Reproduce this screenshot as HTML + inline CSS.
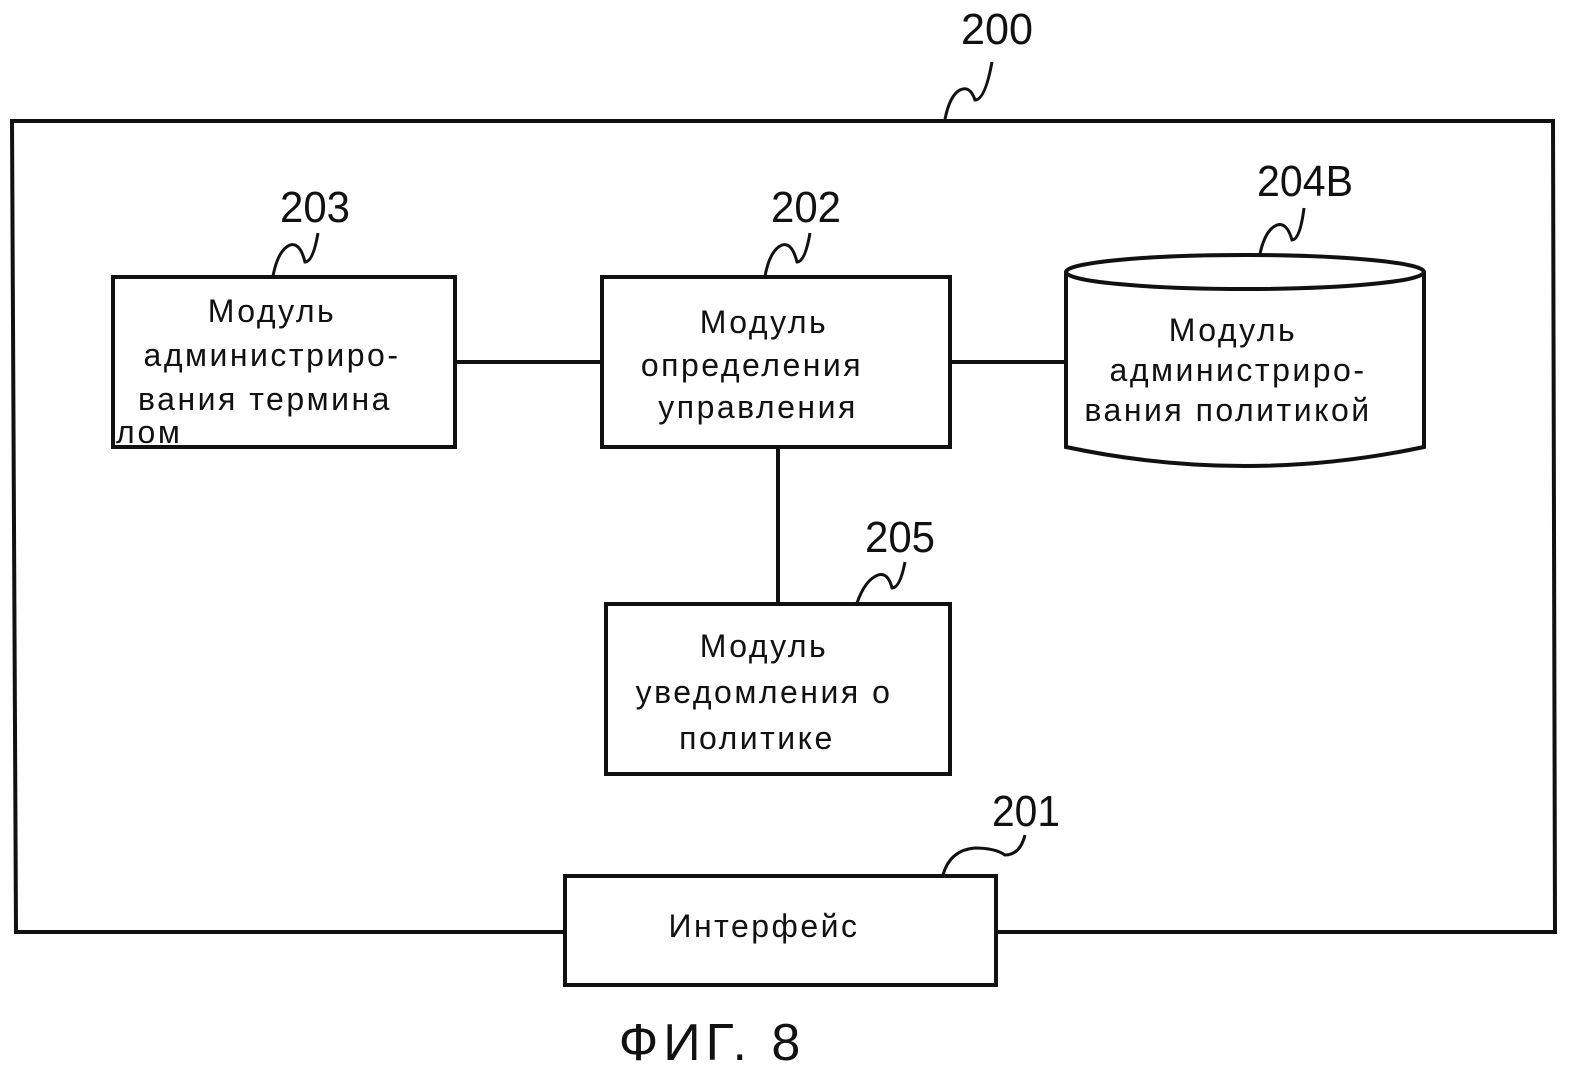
<!DOCTYPE html>
<html><head><meta charset="utf-8"><style>
html,body{margin:0;padding:0;background:#fff;}
svg{display:block;}
text{font-family:"Liberation Sans",sans-serif;fill:#111;}
.t{font-size:32px;text-anchor:middle;letter-spacing:2.5px;}
.n{font-size:44px;text-anchor:middle;}
</style></head><body>
<svg width="1572" height="1070" viewBox="0 0 1572 1070" xmlns="http://www.w3.org/2000/svg">
<g fill="none" stroke="#111" stroke-width="4">
<polyline points="565,932 16,932 12,121 1553,121 1555,932 996,932"/>
<rect x="113" y="277" width="342" height="170"/>
<rect x="602" y="277" width="348" height="170"/>
<rect x="606" y="604" width="344" height="170"/>
<rect x="565" y="876" width="431" height="109"/>
<ellipse cx="1245" cy="272" rx="179" ry="17"/>
<path d="M1066,272 L1066,447 Q1245,485 1424,447 L1424,272"/>
<line x1="455" y1="362" x2="602" y2="362"/>
<line x1="950" y1="362" x2="1066" y2="362"/>
<line x1="778" y1="447" x2="778" y2="604"/>
</g>
<g fill="none" stroke="#111" stroke-width="3">
<path d="M945,119 Q950,95 960,90 Q970,85 975,100 Q985,100 992,62"/>
<path d="M273,276 Q278,250 290,245 Q300,242 305,262 Q313,262 318,233"/>
<path d="M765,276 Q770,250 782,245 Q792,242 797,262 Q805,262 810,233"/>
<path d="M1260,254 Q1265,230 1277,225 Q1287,222 1292,240 Q1300,240 1304,208"/>
<path d="M857,603 Q865,580 878,575 Q888,572 892,588 Q900,588 905,562"/>
<path d="M943,875 Q950,850 975,848 Q995,848 1005,855 Q1020,855 1025,835"/>
</g>
<text class="n" x="997" y="44" textLength="72" lengthAdjust="spacingAndGlyphs">200</text>
<text class="n" x="315" y="222" textLength="70" lengthAdjust="spacingAndGlyphs">203</text>
<text class="n" x="806" y="222" textLength="70" lengthAdjust="spacingAndGlyphs">202</text>
<text class="n" x="1305" y="196" textLength="96" lengthAdjust="spacingAndGlyphs">204B</text>
<text class="n" x="900" y="552" textLength="70" lengthAdjust="spacingAndGlyphs">205</text>
<text class="n" x="1026" y="826" textLength="68" lengthAdjust="spacingAndGlyphs">201</text>
<text class="t" x="272" y="322">Модуль</text>
<text class="t" x="272" y="366">администриро-</text>
<text class="t" x="265" y="410">вания термина</text>
<text x="116" y="443" style="font-size:32px;letter-spacing:2.5px">лом</text>
<text class="t" x="764" y="333">Модуль</text>
<text class="t" x="752" y="376">определения</text>
<text class="t" x="758" y="418">управления</text>
<text class="t" x="1233" y="341">Модуль</text>
<text class="t" x="1238" y="381">администриро-</text>
<text class="t" x="1228" y="421">вания политикой</text>
<text class="t" x="764" y="657">Модуль</text>
<text class="t" x="764" y="703">уведомления о</text>
<text class="t" x="757" y="749">политике</text>
<text class="t" x="764" y="937">Интерфейс</text>
<text x="712" y="1060" style="font-size:52px;text-anchor:middle;letter-spacing:5px">ФИГ. 8</text>
</svg>
</body></html>
